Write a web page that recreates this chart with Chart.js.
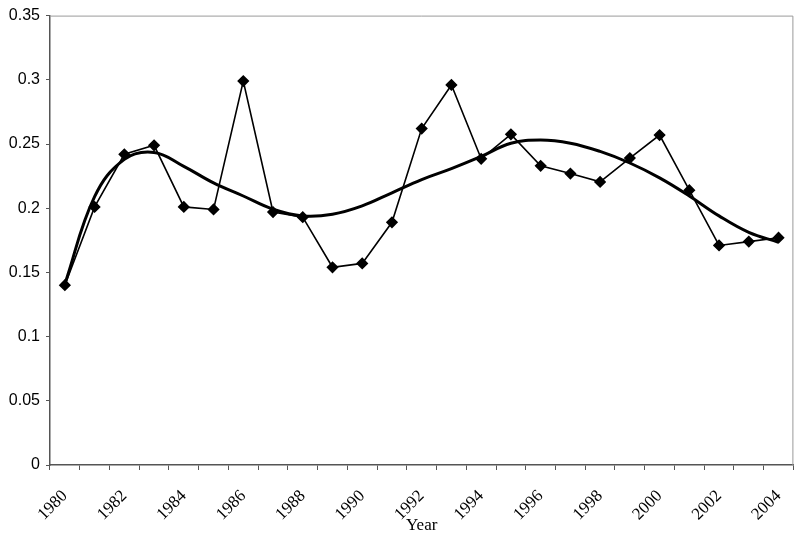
<!DOCTYPE html>
<html>
<head>
<meta charset="utf-8">
<style>
    html, body { margin: 0; padding: 0; background: #fff; }
    #wrap { width: 800px; height: 536px; }
</style>
</head>
<body>
<div id="wrap"><canvas id="chart"></canvas></div>
<script src="https://cdn.jsdelivr.net/npm/chart.js"></script>
<script>
    // 연도 (x축 범주)
    const years = ['1980', '1981', '1982', '1983', '1984', '1985', '1986', '1987', '1988', '1989',
        '1990', '1991', '1992', '1993', '1994', '1995', '1996', '1997', '1998', '1999',
        '2000', '2001', '2002', '2003', '2004'];

    // 관측값 (마커가 있는 선)
    const observed = [0.140, 0.201, 0.242, 0.249, 0.201, 0.199, 0.299, 0.197, 0.193, 0.154,
        0.157, 0.189, 0.262, 0.296, 0.2385, 0.2575, 0.233, 0.227, 0.2205, 0.239,
        0.257, 0.214, 0.171, 0.174, 0.177];

    // 추세선 (굵은 곡선), 그림에서 읽은 값
    const trend = [0.141, 0.209, 0.238, 0.2434, 0.2326, 0.2197, 0.2095, 0.1992, 0.194, 0.1953,
        0.2018, 0.212, 0.2223, 0.2308, 0.2403, 0.2506, 0.2531, 0.2506, 0.2442, 0.2352,
        0.2236, 0.2095, 0.194, 0.1812, 0.1735];

    // y축 눈금
    const yMin = 0;
    const yMax = 0.35;
    const yStep = 0.05;

    // 플롯 영역 테두리 (위, 오른쪽)
    const frame = {
        id: 'frame',
        beforeDatasetsDraw(chart) {
            const a = chart.chartArea;
            const ctx = chart.ctx;
            ctx.save();
            ctx.strokeStyle = '#9a9a9a';
            ctx.lineWidth = 1;
            ctx.beginPath();
            ctx.moveTo(a.left, a.top + 0.5);
            ctx.lineTo(a.right - 0.5, a.top + 0.5);
            ctx.lineTo(a.right - 0.5, a.bottom);
            ctx.stroke();
            ctx.restore();
        }
    };

    new Chart(document.getElementById('chart'), {
        type: 'line',
        data: {
            labels: years,
            datasets: [{
                label: 'trend',
                data: trend,
                borderColor: '#000',
                borderWidth: 3,
                pointRadius: 0,
                tension: 0.4,
                fill: false
            }, {
                label: 'observed',
                data: observed,
                borderColor: '#000',
                backgroundColor: '#000',
                borderWidth: 1.6,
                pointStyle: 'rectRot',
                pointRadius: 5,
                tension: 0,
                fill: false
            }]
        },
        options: {
            responsive: true,
            maintainAspectRatio: false,
            animation: false,
            layout: { padding: { top: 11, right: 6, left: 0, bottom: 0 } },
            plugins: {
                legend: { display: false },
                tooltip: { enabled: false }
            },
            scales: {
                x: {
                    type: 'category',
                    offset: true,
                    grid: {
                        offset: true,
                        drawOnChartArea: false,
                        drawTicks: true,
                        tickLength: 5,
                        color: '#555'
                    },
                    border: { color: '#555', width: 1.5 },
                    ticks: {
                        autoSkip: false,
                        minRotation: 45,
                        maxRotation: 45,
                        padding: 16,
                        color: '#000',
                        font: { family: '"Liberation Serif", "Times New Roman", serif', size: 17 },
                        callback: function (value, index) {
                            return index % 2 === 0 ? this.getLabelForValue(value) : '';
                        }
                    },
                    title: {
                        display: true,
                        text: 'Year',
                        color: '#000',
                        padding: { top: 0, bottom: 0 },
                        font: { family: '"Liberation Serif", "Times New Roman", serif', size: 17 }
                    },
                    afterFit(scale) {
                        scale.height = 71;
                        scale.paddingLeft = 0;
                        scale.paddingRight = 0;
                    }
                },
                y: {
                    min: yMin,
                    max: yMax,
                    grid: {
                        drawOnChartArea: false,
                        drawTicks: true,
                        tickLength: 4,
                        color: '#555'
                    },
                    border: { color: '#555', width: 1.5 },
                    ticks: {
                        stepSize: yStep,
                        padding: 6,
                        color: '#000',
                        font: { family: '"Liberation Sans", Arial, sans-serif', size: 16 },
                        callback: function (value) {
                            return parseFloat(value.toFixed(2)).toString();
                        }
                    },
                    afterFit(scale) { scale.width = 50; }
                }
            }
        },
        plugins: [frame]
    });
</script>
</body>
</html>
